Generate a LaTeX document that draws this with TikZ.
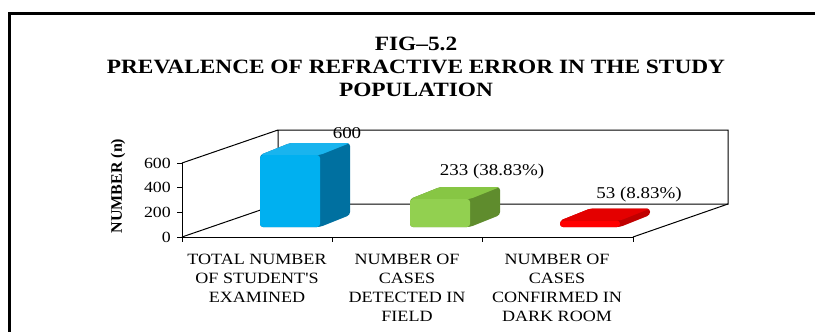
\documentclass[tikz,border=0pt]{standalone}
\usepackage{fontspec}
\setmainfont{Liberation Serif}[FakeStretch=1.15, Ligatures=TeXOff]
\newfontfamily\plainserif{Liberation Serif}
\definecolor{blueF}{RGB}{0,176,240}
\definecolor{blueS}{RGB}{0,112,160}
\definecolor{blueT}{RGB}{25,180,238}
\definecolor{greenF}{RGB}{146,208,80}
\definecolor{greenS}{RGB}{95,140,45}
\definecolor{greenT}{RGB}{135,198,68}
\definecolor{redF}{RGB}{255,0,0}
\definecolor{redS}{RGB}{192,0,0}
\definecolor{redT}{RGB}{228,0,0}
\tikzset{
  frameline/.style={line width=3.3pt, black},
  axisline/.style={line width=1pt, black},
  titletext/.style={font=\fontsize{20.3}{23}\selectfont\bfseries, anchor=base, inner sep=0},
  ticklabel/.style={font=\fontsize{15.5}{18}\selectfont, anchor=east, inner sep=0},
  valuelabel/.style={font=\fontsize{16.5}{19}\selectfont, inner sep=0},
  catlabel/.style={font=\fontsize{15.7}{19}\selectfont, align=center, anchor=north, inner sep=0},
}
\newcommand\drawbar[5]{%
  \fill[#4, rounded corners=3pt] (#1,#2) -- ++(30,-12) -- ++(60,0) -- (#1+90,215) -- (#1+60,227) -- (#1,227) -- cycle;
  \fill[#5, rounded corners=3pt] (#1,#2) -- ++(30,-12) -- ++(60,0) -- (#1+60,#2) -- cycle;
  \fill[#3, rounded corners=3pt] (#1,227) rectangle (#1+60,#2);
}
\begin{document}
\begin{tikzpicture}[x=1pt,y=-1pt]
\useasboundingbox (0,0) rectangle (815,332);
% frame
\draw[frameline] (9.5,340) -- (9.5,13.5) -- (825,13.5);
% title
\node[titletext] (t1) at (416,50.5) {FIG–5.2};
\node[titletext] (t2) at (416,73.5) {PREVALENCE OF REFRACTIVE ERROR IN THE STUDY};
\node[titletext] (t3) at (416,96.5) {POPULATION};
% back wall and side wall
\coordinate (bwtl) at (278,130);
\coordinate (bwtr) at (728,130);
\coordinate (bwbl) at (278,204);
\coordinate (bwbr) at (728,204);
\coordinate (ytop) at (182,163);
\coordinate (yorg) at (182,237);
\coordinate (xend) at (633,237);
\draw[axisline] (ytop) -- (bwtl) -- (bwtr) -- (bwbr) -- (bwbl) -- (bwtl);
\draw[axisline] (yorg) -- (bwbl);
\draw[axisline] (xend) -- (bwbr);
% bars
\drawbar{260}{155}{blueF}{blueS}{blueT}
\drawbar{410}{199}{greenF}{greenS}{greenT}
\drawbar{560}{220.6}{redF}{redS}{redT}
% front axes
\draw[axisline] (ytop) -- (yorg) -- (xend);
\foreach \yy/\lab in {237/0,212.3/200,187.7/400,163/600}{
  \draw[axisline] (177,\yy) -- (182,\yy);
  \node[ticklabel] (tick\lab) at (171,\yy) {\lab};
}
\foreach \xx in {182,332,482,633}{
  \draw[axisline] (\xx,237) -- (\xx,242);
}
% axis title
\node[font=\plainserif\fontsize{16}{19}\selectfont\bfseries, rotate=90, inner sep=0] (ytitle) at (118,186) {NUMBER (n)};
% value labels
\node[valuelabel] (v1) at (347,133) {600};
\node[valuelabel] (v2) at (492,172) {233 (38.83\%)};
\node[valuelabel] (v3) at (639,195) {53 (8.83\%)};
% category labels
\node[catlabel] (c1) at (257,253.5) {TOTAL NUMBER\\OF STUDENT'S\\EXAMINED};
\node[catlabel] (c2) at (407,253.5) {NUMBER OF\\CASES\\DETECTED IN\\FIELD};
\node[catlabel] (c3) at (557,253.5) {NUMBER OF\\CASES\\CONFIRMED IN\\DARK ROOM};
\end{tikzpicture}
\end{document}
